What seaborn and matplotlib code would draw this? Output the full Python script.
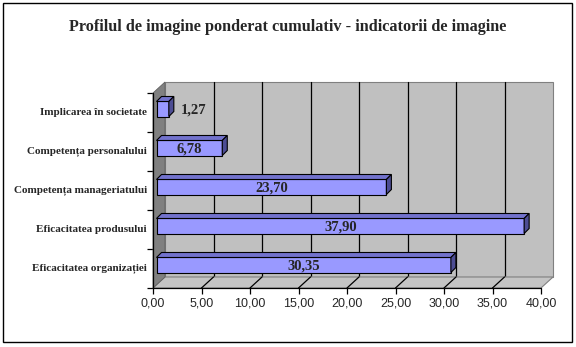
import matplotlib
matplotlib.use("Agg")
import matplotlib.pyplot as plt
import matplotlib.transforms as mtransforms
from matplotlib.patches import Polygon, Rectangle
import seaborn as sns
import pandas as pd

# ---- data ----
categories = [
    "Implicarea în societate",
    "Competența personalului",
    "Competența manageriatului",
    "Eficacitatea produsului",
    "Eficacitatea organizației",
]
values = [1.27, 6.78, 23.70, 37.90, 30.35]
value_labels = ["1,27", "6,78", "23,70", "37,90", "30,35"]
x_ticks = [0, 5, 10, 15, 20, 25, 30, 35, 40]
x_ticklabels = ["0,00", "5,00", "10,00", "15,00", "20,00", "25,00", "30,00", "35,00", "40,00"]
title = "Profilul de imagine ponderat cumulativ - indicatorii de imagine"

df = pd.DataFrame({"cat": categories, "val": values})

sns.set_style("white")
plt.rcParams["font.family"] = ["Liberation Serif", "DejaVu Serif"]

W, H, DPI = 576, 347, 100
fig = plt.figure(figsize=(W / DPI, H / DPI), dpi=DPI)
fig.patch.set_facecolor("white")

# front plane of the 3D box in pixels
fx0, fx1, fy_top, fy_bot = 153, 541, 93, 288
ax = fig.add_axes([fx0 / W, 1 - fy_bot / H, (fx1 - fx0) / W, (fy_bot - fy_top) / H])
ax.set_facecolor("none")

sns.barplot(data=df, x="val", y="cat", orient="h", color="#9999ff",
            saturation=1, width=0.385, edgecolor="black", linewidth=0.8,
            ax=ax, zorder=5)
ax.set_xlim(0, 40)
ax.set_ylim(4.5, -0.5)

# px -> data conversions
px_x = (fx1 - fx0) / 40.0
px_y = (fy_bot - fy_top) / 5.0
depth_dx, depth_dy = 12, 11  # box depth offset in px (right, up)

def shift(dx_px, dy_px):
    return mtransforms.ScaledTranslation(dx_px / DPI, dy_px / DPI, fig.dpi_scale_trans)

# back wall
wall_tr = ax.transAxes + shift(depth_dx, depth_dy)
ax.add_patch(Rectangle((0, 0), 1, 1, transform=wall_tr, facecolor="#c0c0c0",
                       edgecolor="#808080", lw=0.8, zorder=0, clip_on=False))
# gridlines on back wall
for t in x_ticks[1:-1]:
    ax.plot([t, t], [4.5, -0.5], color="black", lw=0.9,
            transform=ax.transData + shift(depth_dx, depth_dy), zorder=1, clip_on=False)

# floor
dxa = depth_dx / (fx1 - fx0)
dya = depth_dy / (fy_bot - fy_top)
ax.add_patch(Polygon([(0, 0), (1, 0), (1 + dxa, dya), (dxa, dya)], closed=True,
                     transform=ax.transAxes, facecolor="#c4c4c4", edgecolor="#808080",
                     lw=0.8, zorder=2, clip_on=False))
# floor grid diagonals
for t in x_ticks[1:-1]:
    ax.plot([t, t + depth_dx / px_x], [4.5, 4.5 - depth_dy / px_y], color="black",
            lw=0.9, zorder=2.5, clip_on=False)
# left wall
ax.add_patch(Polygon([(0, 0), (0, 1), (dxa, 1 + dya), (dxa, dya)], closed=True,
                     transform=ax.transAxes, facecolor="#808080", edgecolor="#606060",
                     lw=0.6, zorder=3, clip_on=False))

# bars with 3D faces
bar_off = 3.5   # px, bar front face sits inside the box
bd = 5          # px, bar depth
bars = [p for p in ax.patches if isinstance(p, matplotlib.patches.Rectangle)
        and p.get_zorder() == 5]
ddx = bd / px_x
ddy = bd / px_y
for p, lab in zip(bars, value_labels):
    x0 = p.get_x() + bar_off / px_x
    x1 = x0 + p.get_width()
    ytop = p.get_y() - bar_off / px_y
    ybot = ytop + p.get_height()
    p.set_x(x0)
    p.set_y(ytop)
    p.set_clip_on(False)
    top = Polygon([(x0, ytop), (x1, ytop), (x1 + ddx, ytop - ddy), (x0 + ddx, ytop - ddy)],
                  closed=True, facecolor="#7272cc", edgecolor="black", lw=0.8,
                  zorder=5, clip_on=False)
    side = Polygon([(x1, ytop), (x1 + ddx, ytop - ddy), (x1 + ddx, ybot - ddy), (x1, ybot)],
                   closed=True, facecolor="#4d4d94", edgecolor="black", lw=0.8,
                   zorder=5, clip_on=False)
    ax.add_patch(top)
    ax.add_patch(side)
    yc = (ytop + ybot) / 2 + 1 / px_y
    if p.get_width() < 4:
        ax.text(x1 + ddx + 7 / px_x, yc, lab, ha="left", va="center",
                fontsize=10.5, fontweight="bold", zorder=7)
    else:
        ax.text((x0 + x1) / 2, yc, lab, ha="center", va="center",
                fontsize=10.5, fontweight="bold", zorder=7)

# axes lines and ticks
for s in ax.spines.values():
    s.set_visible(False)
ax.plot([0, 0], [4.5, -0.5], color="black", lw=0.9, zorder=4, clip_on=False)
ax.plot([0, 40], [4.5, 4.5], color="black", lw=0.9, zorder=4, clip_on=False)
ax.set_xticks(x_ticks)
ax.set_xticklabels(x_ticklabels, fontfamily="Liberation Sans", fontsize=9)
ax.set_yticks([-0.5, 0.5, 1.5, 2.5, 3.5, 4.5])
ax.set_yticklabels([])
ax.tick_params(axis="both", direction="out", length=4, width=0.9, color="black",
               bottom=True, left=True, pad=3)
for i, c in enumerate(categories):
    ax.text(-6 / px_x, i, c, ha="right", va="center", fontsize=8,
            fontweight="bold", clip_on=False)
ax.set_xlabel("")
ax.set_ylabel("")

fig.text(0.5, 1 - 27 / H, title, ha="center", va="center", fontsize=11.7,
         fontweight="bold")

# outer border
fig.patches.append(Rectangle((3 / W, 5 / H), 569 / W, 339 / H, transform=fig.transFigure,
                             fill=False, edgecolor="black", lw=1.0))

fig.savefig("out.png", dpi=DPI)
